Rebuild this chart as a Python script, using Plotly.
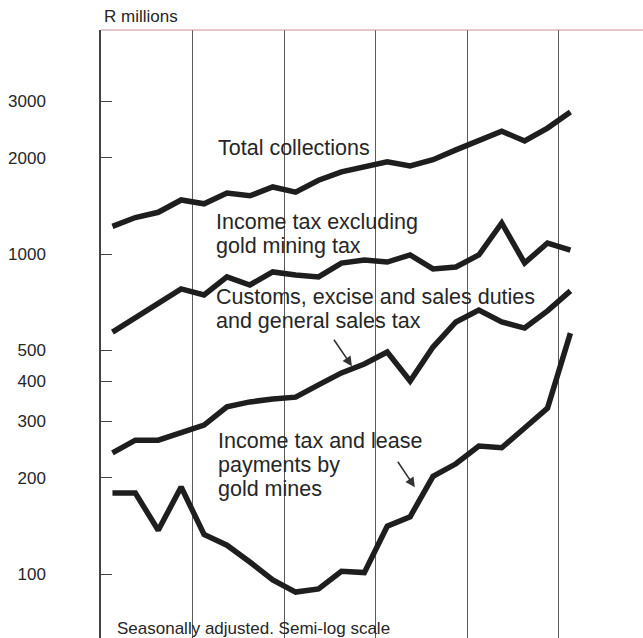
import plotly.graph_objects as go

# Quarterly observations (index 0 = first quarter of first year)
quarters = list(range(21))
total_collections = [1220, 1300, 1350, 1475, 1435, 1550, 1520, 1620, 1560, 1700, 1805,
                     1870, 1940, 1885, 1970, 2115, 2270, 2420, 2255, 2475, 2780]
income_tax_excl_gold = [570, 631, 703, 778, 745, 848, 800, 879, 860, 848, 937,
                        958, 944, 993, 898, 911, 993, 1250, 937, 1082, 1029]
customs_excise_sales = [239, 262, 262, 278, 292, 333, 345, 352, 357, 390, 425,
                        453, 494, 401, 512, 613, 668, 613, 587, 664, 767]
gold_mines_tax = [179, 179, 137, 187, 133, 123, 109, 95.8, 87.8, 89.8, 102,
                  101, 141, 151, 202, 221, 251, 248, 286, 330, 566]

year_boundaries = [3.5, 7.5, 11.5, 15.5, 19.5]
y_tick_values = [100, 200, 300, 400, 500, 1000, 2000, 3000]
y_tick_labels = ["100", "200", "300", "400", "500", "1000", "2000", "3000"]

FONT = "Liberation Sans, Arial, Helvetica, sans-serif"
LINE_COLOR = "#1e1e1e"
TEXT_COLOR = "#262626"

fig = go.Figure()
for name, vals in [("Total collections", total_collections),
                   ("Income tax excluding gold mining tax", income_tax_excl_gold),
                   ("Customs, excise and sales duties and general sales tax", customs_excise_sales),
                   ("Income tax and lease payments by gold mines", gold_mines_tax)]:
    fig.add_trace(go.Scatter(x=quarters, y=vals, mode="lines", name=name,
                             line=dict(color=LINE_COLOR, width=5.5),
                             showlegend=False, hoverinfo="x+y+name"))

fig.update_layout(
    width=643, height=638,
    margin=dict(l=101, r=0, t=30, b=0),
    paper_bgcolor="white", plot_bgcolor="white",
    font=dict(family=FONT, color=TEXT_COLOR),
    xaxis=dict(range=[-0.5, 23.17], tickvals=year_boundaries, showticklabels=False,
               showgrid=True, gridcolor="#5a5a5a", gridwidth=1, zeroline=False,
               showline=False, ticks=""),
    yaxis=dict(type="log", range=[1.8, 3.7], tickvals=y_tick_values, ticktext=y_tick_labels,
               ticks="inside", ticklen=11, tickwidth=1.2, tickcolor="#444",
               showline=True, linecolor="#444", linewidth=1.5, showgrid=False,
               zeroline=False, tickfont=dict(size=17, color=TEXT_COLOR, family=FONT),
               ticklabelstandoff=50),
)

# top border line
fig.add_shape(type="line", xref="paper", yref="paper", x0=0, x1=1, y0=1, y1=1,
              line=dict(color="#c98f95", width=1))

def label(text, x, y, size=21.5):
    fig.add_annotation(text=text, xref="paper", yref="paper", x=x, y=y,
                       xanchor="left", yanchor="middle", showarrow=False,
                       font=dict(size=size, color=TEXT_COLOR, family=FONT))

label("Total collections", 0.213, 0.8060)
label("Income tax excluding", 0.209, 0.6850)
label("gold mining tax", 0.209, 0.6450)
label("Customs, excise and sales duties", 0.209, 0.5610)
label("and general sales tax", 0.209, 0.5210)
label("Income tax and lease", 0.213, 0.3245)
label("payments by", 0.213, 0.2850)
label("gold mines", 0.213, 0.2455)

label("R millions", 0.0010, 1.0230, size=17)
label("Seasonally adjusted. Semi-log scale", 0.0260, 0.0150, size=17)

# arrows
for tip_x, tip_y, ax, ay in [(0.463, 0.447, -19, -28), (0.579, 0.248, -18, -27)]:
    fig.add_annotation(text="", xref="paper", yref="paper", x=tip_x, y=tip_y,
                       ax=ax, ay=ay, showarrow=True, arrowhead=2, arrowsize=1.2,
                       arrowwidth=1.6, arrowcolor="#333")

fig.write_html("out.html", config={"displayModeBar": False},
               post_script="document.body.style.margin='0';document.body.style.overflow='hidden';")
